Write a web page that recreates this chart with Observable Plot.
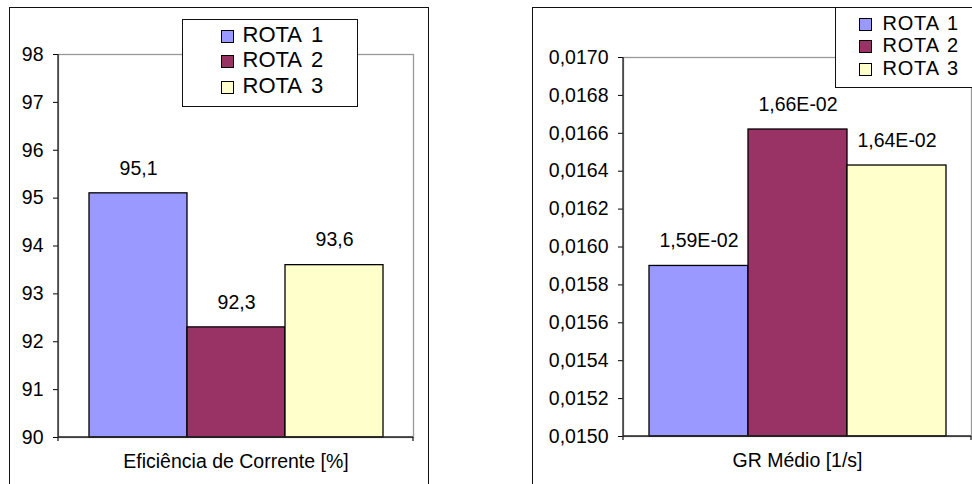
<!DOCTYPE html>
<html>
<head>
<meta charset="utf-8">
<script src="https://cdn.jsdelivr.net/npm/d3@7"></script>
<script src="https://cdn.jsdelivr.net/npm/@observablehq/plot@0.6"></script>
<style>
  body { margin: 0; background: #fff; }
  #root { position: relative; width: 972px; height: 484px; overflow: hidden; background: #fff;
          font-family: "Liberation Sans", Arial, sans-serif; color: #000; }
  .box { position: absolute; border: 1.5px solid #111; box-sizing: border-box; }
  .chart { position: absolute; top: 0; }
  .legend { position: absolute; background: #fff; border: 1.5px solid #111; box-sizing: border-box;
            white-space: nowrap; }
  .legend .row { display: block; }
  .legend .sw { display: inline-block; width: 13px; height: 13px; border: 1.3px solid #000;
                box-sizing: border-box; vertical-align: -1px; }
</style>
</head>
<body>
<div id="root"></div>
<script>
// ---- data ----
const routes = ["ROTA 1", "ROTA 2", "ROTA 3"];
const colors = ["#9999FF", "#993366", "#FFFFCC"];

const efficiency = [95.1, 92.3, 93.6];
const efficiencyLabels = ["95,1", "92,3", "93,6"];
const efficiencyTicks = [90, 91, 92, 93, 94, 95, 96, 97, 98];
const efficiencyTitle = "Eficiência de Corrente [%]";

const grMedio = [0.0159, 0.01662, 0.01643];
const grMedioLabels = ["1,59E-02", "1,66E-02", "1,64E-02"];
const grMedioTicks = [0.0150, 0.0152, 0.0154, 0.0156, 0.0158, 0.0160, 0.0162, 0.0164, 0.0166, 0.0168, 0.0170];
const grMedioTitle = "GR Médio [1/s]";

// ---- helpers ----
const ptBR = d3.formatLocale({decimal: ",", thousands: ".", grouping: [3], currency: ["", ""]});
const FONT = "'Liberation Sans', Arial, sans-serif";

function axisLines(stroke) {
  return function(...args) {
    const dim = args.find(a => a && typeof a === "object" && "marginLeft" in a && "height" in a);
    const x0 = dim.marginLeft, x1 = dim.width - dim.marginRight;
    const y0 = dim.marginTop, y1 = dim.height - dim.marginBottom;
    const g = d3.create("svg:g").attr("stroke", stroke).attr("stroke-width", 1.3).attr("fill", "none");
    g.append("path").attr("d", `M${x0},${y0}V${y1 + 4}M${x0},${y1}H${x1}M${x1},${y1}V${y1 + 4}`);
    return g.node();
  };
}

function drawChart({values, labels, ticks, tickFormat, title, width, height, margins, paddingOuter}) {
  const data = routes.map((r, i) => ({route: r, value: values[i], label: labels[i]}));
  const yMin = ticks[0], yMax = ticks[ticks.length - 1];
  return Plot.plot({
    width, height, ...margins,
    style: {background: "transparent", fontFamily: FONT, fontSize: "19.5px", color: "#000", overflow: "visible"},
    x: {domain: routes, paddingInner: 0, paddingOuter, axis: null},
    y: {domain: [yMin, yMax], ticks, tickFormat, tickSize: 5, tickPadding: 10, label: null},
    color: {domain: routes, range: colors},
    marks: [
      Plot.frame({stroke: "#999", strokeWidth: 1.3}),
      Plot.barY(data, {x: "route", y1: yMin, y2: "value", fill: "route", stroke: "#000",
                       strokeWidth: 1.3, insetLeft: 0, insetRight: 0}),
      Plot.text(data, {x: "route", y: "value", text: "label", dy: -25, fontSize: 19.5, fill: "#000"}),
      Plot.text([title], {frameAnchor: "bottom", dy: 30, text: d => d, fontSize: 19.5, fill: "#000"}),
      axisLines("#222")
    ]
  });
}

function legend(parent, {left, top, width, height, padLeft, padTop, fontSize, lineHeight, gap, wordSpacing, letterSpacing}) {
  const lg = parent.append("div").attr("class", "legend")
    .style("left", left + "px").style("top", top + "px")
    .style("width", width + "px").style("height", height + "px")
    .style("padding-left", padLeft + "px").style("padding-top", padTop + "px")
    .style("font-size", fontSize + "px")
    .style("line-height", lineHeight + "px").style("word-spacing", wordSpacing + "px")
    .style("letter-spacing", letterSpacing + "px");
  routes.forEach((r, i) => {
    const row = lg.append("div").attr("class", "row");
    row.append("span").attr("class", "sw").style("background", colors[i]).style("margin-right", gap + "px");
    row.append("span").text(r);
  });
}

// ---- layout ----
const root = d3.select("#root");

root.append("div").attr("class", "box")
  .style("left", "9px").style("top", "7px").style("width", "420px").style("height", "495px");
root.append("div").attr("class", "box")
  .style("left", "532px").style("top", "7px").style("width", "460px").style("height", "495px");

const left = drawChart({
  values: efficiency, labels: efficiencyLabels, ticks: efficiencyTicks,
  tickFormat: d3.format("d"), title: efficiencyTitle,
  width: 430, height: 484,
  margins: {marginLeft: 58, marginRight: 17, marginTop: 54, marginBottom: 47},
  paddingOuter: 0.305
});
left.classList.add("chart");
left.style.left = "0px";
root.node().appendChild(left);

const right = drawChart({
  values: grMedio, labels: grMedioLabels, ticks: grMedioTicks,
  tickFormat: ptBR.format(".4f"), title: grMedioTitle,
  width: 482, height: 484,
  margins: {marginLeft: 133, marginRight: 1, marginTop: 57, marginBottom: 48},
  paddingOuter: 0.246
});
right.classList.add("chart");
right.style.left = "490px";
root.node().appendChild(right);

legend(root, {left: 182, top: 19, width: 176, height: 88, padLeft: 37.5, padTop: 1.5,
              fontSize: 22, lineHeight: 25.5, gap: 9, wordSpacing: 4, letterSpacing: 0});
legend(root, {left: 835, top: 7, width: 160, height: 81, padLeft: 22.5, padTop: 3.5,
              fontSize: 20, lineHeight: 22.5, gap: 11, wordSpacing: 2, letterSpacing: 0.8});
</script>
</body>
</html>
